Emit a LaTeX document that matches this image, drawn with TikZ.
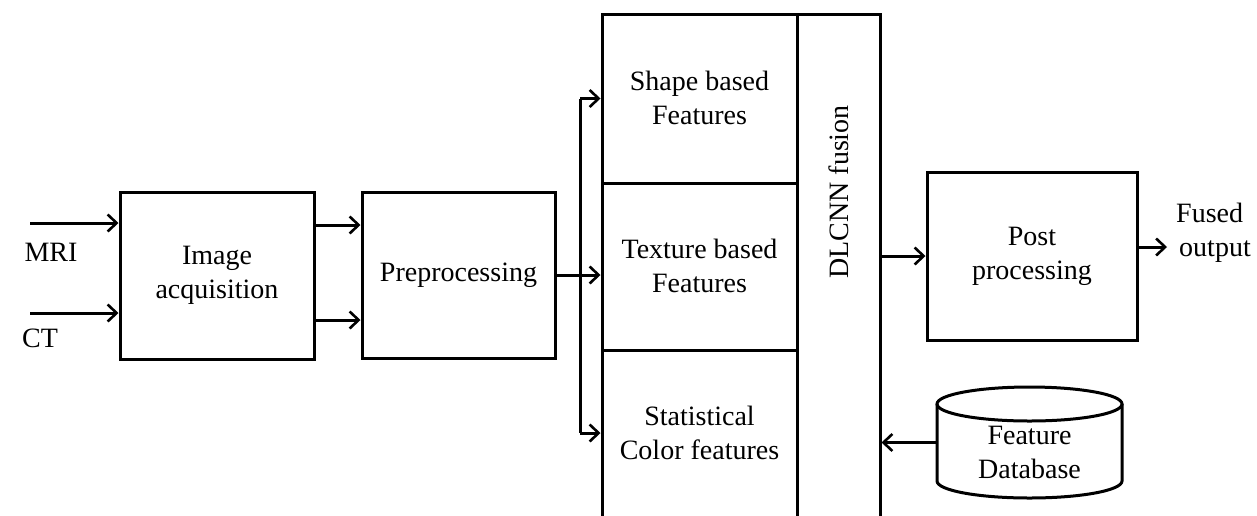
\documentclass[tikz,border=0pt]{standalone}
\usepackage{fontspec}
\setmainfont{Liberation Serif}
\usetikzlibrary{arrows.meta}
\begin{document}
\begin{tikzpicture}[x=1pt,y=1pt,
  every node/.style={font=\fontsize{28}{34}\selectfont, inner sep=0pt, align=center},
  box/.style={draw, line width=3pt},
  ln/.style={line width=3pt},
  conn/.style={line width=3pt, -{Straight Barb[length=9pt,width=17pt,line width=2.6pt]}}]
\useasboundingbox (0,0) rectangle (1257,-515);
\clip (0,0) rectangle (1257,-515);
% left blocks
\node[box, minimum width=194pt, minimum height=167pt] (ia) at (217,-275.5) {Image\\acquisition};
\node[box, minimum width=193pt, minimum height=166pt] (pre) at (458.5,-275) {Preprocessing};
% inputs
\coordinate (mri) at (30,-223);
\coordinate (ct) at (30,-313);
\draw[conn] (mri) -- (mri -| ia.west);
\draw[conn] (ct) -- (ct -| ia.west);
\node (mril) at (51,-252) {MRI};
\node (ctl) at (40,-338) {CT};
% ia -> pre
\coordinate (a1) at (315,-225);
\coordinate (a2) at (315,-320);
\draw[conn] (a1) -- (a1 -| pre.west);
\draw[conn] (a2) -- (a2 -| pre.west);
% feature column
\node[box, minimum width=195pt, minimum height=169pt] (shape) at (699.5,-98.5) {};
\node (shapet) at (699.5,-98) {Shape based\\Features};
\node[box, minimum width=195pt, minimum height=167pt] (tex) at (699.5,-266.5) {};
\node (text) at (699.5,-266) {Texture based\\Features};
\node[box, minimum width=195pt, minimum height=190pt] (stat) at (699.5,-445) {};
\node (statt) at (699.5,-433) {Statistical\\Color features};
\node[box, minimum width=83pt, minimum height=520pt] (dl) at (838.5,-274) {};
\node[rotate=90] (dlt) at (838.5,-192) {DLCNN fusion};
% branch
\coordinate (br) at (580,-275);
\draw[conn] (pre.east) -- (pre.east -| tex.west);
\draw[ln] (br) -- (br |- shape.west);
\draw[conn] (br |- shape.west) -- (shape.west);
\draw[ln] (br) -- (br |- 0,-433);
\draw[conn] (br |- 0,-433) -- (stat.west |- 0,-433);
% post processing
\node[box, minimum width=210pt, minimum height=168pt] (post) at (1032,-256) {Post\\processing};
\draw[conn] (post.west -| dl.east) -- (post.west);
\coordinate (out) at (1167,-247);
\draw[conn] (post.east |- out) -- (out);
\node[anchor=west, align=left] (fo) at (1176,-233) {Fused\\\hspace*{3pt}output};
% database cylinder
\node[minimum width=185pt, minimum height=111pt] (db) at (1029.5,-442.5) {};
\draw[ln] (1029.5,-404) ellipse [x radius=92.5pt, y radius=17pt];
\draw[ln] (937,-404) -- (937,-481) arc[start angle=180, end angle=360, x radius=92.5pt, y radius=17pt] -- (1122,-404);
\node (dbt) at (1029.5,-452) {Feature\\Database};
\draw[conn] (db.west) -- (db.west -| dl.east);
\end{tikzpicture}
\end{document}
